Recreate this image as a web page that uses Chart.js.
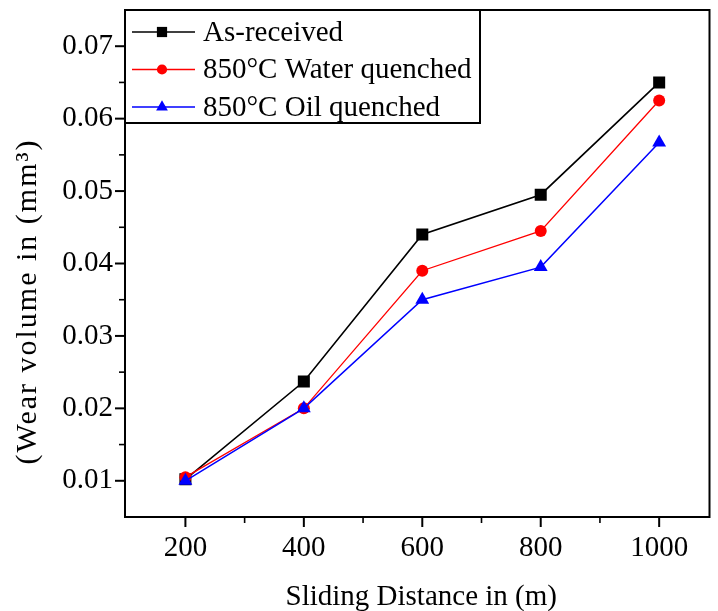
<!DOCTYPE html>
<html>
<head>
<meta charset="utf-8">
<script src="https://cdn.jsdelivr.net/npm/chart.js@4/dist/chart.umd.min.js"></script>
<style>
  html, body { margin: 0; padding: 0; background: #ffffff; overflow: hidden; }
  #wrap { width: 718px; height: 611px; position: relative; }
</style>
</head>
<body>
<div id="wrap"><canvas id="chart" width="718" height="611"></canvas></div>
<script>
// Sliding distance (m) and wear volume (mm^3) for each heat treatment
const distances = [200, 400, 600, 800, 1000];
const asReceived = [0.0102, 0.0237, 0.0440, 0.0495, 0.0650];
const waterQuenched = [0.0105, 0.0200, 0.0390, 0.0445, 0.0625];
const oilQuenched = [0.0100, 0.0200, 0.0350, 0.0395, 0.0567];
const seriesNames = ['As-received', '850°C Water quenched', '850°C Oil quenched'];

// Axis ticks
const xMajorTicks = [200, 400, 600, 800, 1000];
const xMinorTicks = [300, 500, 700, 900];
const yMajorTicks = [0.01, 0.02, 0.03, 0.04, 0.05, 0.06, 0.07];
const yMinorTicks = [0.015, 0.025, 0.035, 0.045, 0.055, 0.065];

const xTitle = 'Sliding Distance in (m)';
const yTitle = '(Wear volume in (mm\u00B3)';

const FONT = '"Liberation Serif", "Times New Roman", serif';

function toPoints(values) {
  return distances.map((d, i) => ({ x: d, y: values[i] }));
}

const seriesStyles = [
  { color: '#000000', pointStyle: 'rect', radius: 8.5, width: 1.6 },
  { color: '#ff0000', pointStyle: 'circle', radius: 6, width: 1.3 },
  { color: '#0000ff', pointStyle: 'triangle', radius: 8, width: 1.5 }
];

const seriesValues = [asReceived, waterQuenched, oilQuenched];

const datasets = seriesValues.map((vals, i) => ({
  label: seriesNames[i],
  data: toPoints(vals),
  borderColor: seriesStyles[i].color,
  backgroundColor: seriesStyles[i].color,
  borderWidth: seriesStyles[i].width,
  pointStyle: seriesStyles[i].pointStyle,
  pointRadius: seriesStyles[i].radius,
  pointHoverRadius: seriesStyles[i].radius,
  pointBorderWidth: 0,
  tension: 0,
  fill: false
}));
// draw blue first, black last so the upper curves sit on top
datasets.reverse();

// Frame around the plot area, outward major/minor tick marks and axis titles
const framePlugin = {
  id: 'frameTicks',
  afterDraw(chart) {
    const { ctx, chartArea: a, scales } = chart;
    ctx.save();
    ctx.strokeStyle = '#000';
    ctx.lineWidth = 2;
    ctx.strokeRect(a.left, a.top, a.right - a.left, a.bottom - a.top);
    const tick = (x1, y1, x2, y2, w) => {
      ctx.lineWidth = w;
      ctx.beginPath(); ctx.moveTo(x1, y1); ctx.lineTo(x2, y2); ctx.stroke();
    };
    xMajorTicks.forEach(v => { const x = scales.x.getPixelForValue(v); tick(x, a.bottom, x, a.bottom + 10, 2); });
    xMinorTicks.forEach(v => { const x = scales.x.getPixelForValue(v); tick(x, a.bottom, x, a.bottom + 6, 1.6); });
    yMajorTicks.forEach(v => { const y = scales.y.getPixelForValue(v); tick(a.left - 10, y, a.left, y, 2); });
    yMinorTicks.forEach(v => { const y = scales.y.getPixelForValue(v); tick(a.left - 6, y, a.left, y, 1.6); });

    ctx.fillStyle = '#000';
    ctx.textAlign = 'center';
    ctx.textBaseline = 'middle';

    // x axis title
    ctx.font = '29px ' + FONT;
    ctx.fillText(xTitle, (a.left + a.right) / 2 + 4, 597);

    // rotated y axis title
    ctx.font = '30px ' + FONT;
    if ('letterSpacing' in ctx) ctx.letterSpacing = '2px';
    ctx.translate(28, (a.top + a.bottom) / 2 + 38);
    ctx.rotate(-Math.PI / 2);
    ctx.fillText(yTitle, 0, 0);
    ctx.restore();
  }
};

function drawMarker(ctx, style, x, y, r) {
  ctx.beginPath();
  if (style === 'rect') {
    const s = r * Math.SQRT1_2;
    ctx.rect(x - s, y - s, 2 * s, 2 * s);
  } else if (style === 'circle') {
    ctx.arc(x, y, r, 0, Math.PI * 2);
  } else {
    const h = r * 1.5, half = r * Math.sqrt(3) / 2;
    ctx.moveTo(x, y - r);
    ctx.lineTo(x + half, y + h - r);
    ctx.lineTo(x - half, y + h - r);
    ctx.closePath();
  }
  ctx.fill();
}

// Boxed legend in the upper-left corner of the plot area
const legendPlugin = {
  id: 'insetLegend',
  afterDatasetsDraw(chart) {
    const { ctx, chartArea: a } = chart;
    const w = 355, h = 113;
    ctx.save();
    ctx.fillStyle = '#fff';
    ctx.fillRect(a.left, a.top, w, h);
    ctx.strokeStyle = '#000';
    ctx.lineWidth = 2;
    ctx.strokeRect(a.left, a.top, w, h);
    ctx.font = '29px ' + FONT;
    ctx.textAlign = 'left';
    ctx.textBaseline = 'middle';
    seriesNames.forEach((name, i) => {
      const st = seriesStyles[i];
      const y = a.top + 22 + i * 37.5;
      ctx.strokeStyle = st.color;
      ctx.fillStyle = st.color;
      ctx.lineWidth = st.width;
      ctx.beginPath();
      ctx.moveTo(a.left + 7, y);
      ctx.lineTo(a.left + 70, y);
      ctx.stroke();
      drawMarker(ctx, st.pointStyle, a.left + 37, y, st.radius * 0.85);
      ctx.fillStyle = '#000';
      ctx.fillText(name, a.left + 78, y + 1);
    });
    ctx.restore();
  }
};

new Chart(document.getElementById('chart'), {
  type: 'line',
  data: { datasets },
  plugins: [legendPlugin, framePlugin],
  options: {
    responsive: false,
    animation: false,
    events: [],
    layout: { padding: { top: 10, right: 2, left: 0, bottom: 0 } },
    plugins: { legend: { display: false }, tooltip: { enabled: false } },
    scales: {
      x: {
        type: 'linear',
        min: 98,
        max: 1085,
        grid: { display: false, drawTicks: false },
        border: { display: false },
        afterBuildTicks: s => { s.ticks = xMajorTicks.map(v => ({ value: v })); },
        afterFit: s => { s.height = 94; s.paddingLeft = 0; s.paddingRight = 0; },
        ticks: {
          color: '#000',
          padding: 14,
          maxRotation: 0,
          font: { family: FONT, size: 29 },
          callback: v => String(v)
        }
      },
      y: {
        type: 'linear',
        min: 0.005,
        max: 0.075,
        grid: { display: false, drawTicks: false },
        border: { display: false },
        afterBuildTicks: s => { s.ticks = yMajorTicks.map(v => ({ value: v })); },
        afterFit: s => { s.width = 125; s.paddingTop = 0; s.paddingBottom = 0; },
        ticks: {
          color: '#000',
          padding: 12,
          font: { family: FONT, size: 29 },
          callback: v => v.toFixed(2)
        }
      }
    }
  }
});
</script>
</body>
</html>
